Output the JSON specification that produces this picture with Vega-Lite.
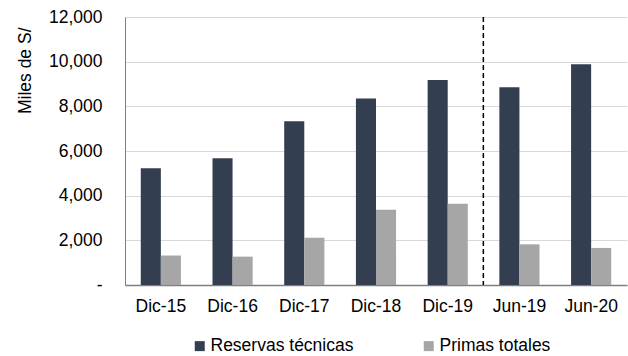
{
  "$schema": "https://vega.github.io/schema/vega-lite/v6.json",
  "width": 502,
  "height": 268,
  "autosize": {"type": "none"},
  "padding": {"left": 125, "top": 17, "right": 1, "bottom": 71},
  "background": "white",
  "config": {
    "view": {"stroke": null},
    "font": "Liberation Sans",
    "axis": {"labelFont": "Liberation Sans", "titleFont": "Liberation Sans", "labelColor": "#000000", "titleColor": "#000000"},
    "legend": {"labelFont": "Liberation Sans"}
  },
  "datasets": {
    "bars": [
      {"periodo": "Dic-15", "serie": "Reservas técnicas", "valor": 5230},
      {"periodo": "Dic-15", "serie": "Primas totales", "valor": 1320},
      {"periodo": "Dic-16", "serie": "Reservas técnicas", "valor": 5680},
      {"periodo": "Dic-16", "serie": "Primas totales", "valor": 1270},
      {"periodo": "Dic-17", "serie": "Reservas técnicas", "valor": 7330},
      {"periodo": "Dic-17", "serie": "Primas totales", "valor": 2120},
      {"periodo": "Dic-18", "serie": "Reservas técnicas", "valor": 8350},
      {"periodo": "Dic-18", "serie": "Primas totales", "valor": 3370},
      {"periodo": "Dic-19", "serie": "Reservas técnicas", "valor": 9180},
      {"periodo": "Dic-19", "serie": "Primas totales", "valor": 3640},
      {"periodo": "Jun-19", "serie": "Reservas técnicas", "valor": 8850},
      {"periodo": "Jun-19", "serie": "Primas totales", "valor": 1820},
      {"periodo": "Jun-20", "serie": "Reservas técnicas", "valor": 9880},
      {"periodo": "Jun-20", "serie": "Primas totales", "valor": 1660}
    ],
    "corte": [{"periodo": "Jun-19"}]
  },
  "layer": [
    {
      "data": {"name": "bars"},
      "mark": {"type": "bar"},
      "encoding": {
        "x": {
          "field": "periodo",
          "type": "nominal",
          "scale": {"domain": ["Dic-15", "Dic-16", "Dic-17", "Dic-18", "Dic-19", "Jun-19", "Jun-20"], "paddingInner": 0.44, "paddingOuter": 0.22},
          "axis": {"title": null, "labelAngle": 0, "labelFontSize": 17.5, "labelPadding": 12, "ticks": false, "domainColor": "#7f7f7f", "domainWidth": 1.5, "grid": false}
        },
        "xOffset": {"field": "serie", "type": "nominal", "scale": {"domain": ["Reservas técnicas", "Primas totales"], "paddingInner": 0, "paddingOuter": 0}},
        "y": {
          "field": "valor",
          "type": "quantitative",
          "scale": {"domain": [0, 12000], "nice": false},
          "axis": {
            "title": "Miles de S/",
            "titleFontSize": 17.5,
            "titleFontWeight": "normal",
            "titleAnchor": "end",
            "titleY": 10,
            "titlePadding": 14,
            "values": [0, 2000, 4000, 6000, 8000, 10000, 12000],
            "labelExpr": "datum.value == 0 ? '-' : format(datum.value, ',')",
            "labelFontSize": 17.5,
            "labelPadding": 23,
            "ticks": false,
            "domainColor": "#7f7f7f",
            "gridColor": "#d9d9d9",
            "gridWidth": 1.2
          }
        },
        "color": {
          "field": "serie",
          "type": "nominal",
          "scale": {"domain": ["Reservas técnicas", "Primas totales"], "range": ["#333f50", "#a6a6a6"]},
          "legend": {
            "title": null,
            "orient": "none",
            "direction": "horizontal",
            "legendX": 66,
            "legendY": 320,
            "symbolType": "square",
            "symbolSize": 100,
            "symbolStrokeWidth": 0,
            "labelFontSize": 17.5,
            "labelOffset": 2,
            "columnPadding": 66
          }
        }
      }
    },
    {
      "data": {"name": "corte"},
      "mark": {"type": "rule", "color": "#000000", "strokeDash": [5, 3], "strokeWidth": 1.5, "xOffset": -16},
      "encoding": {
        "x": {"field": "periodo", "type": "nominal", "bandPosition": 0}
      }
    }
  ]
}
